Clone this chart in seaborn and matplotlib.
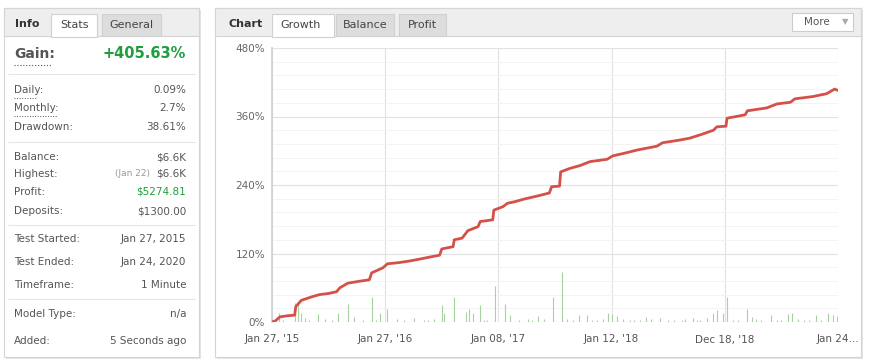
import numpy as np
import pandas as pd
import seaborn as sns
import matplotlib.pyplot as plt
from matplotlib.patches import Rectangle
from matplotlib.ticker import MultipleLocator, FuncFormatter

# ---- data ----
trade = [0, 3, 7, 14, 20, 21, 26, 35, 42, 50, 57, 60, 67, 76, 86, 88, 98, 102, 112, 122,
         130, 140, 148, 150, 160, 161, 168, 173, 182, 184, 195, 196, 204, 208, 215, 222,
         235, 245, 247, 254, 255, 263, 272, 281, 296, 301, 312, 322, 340, 345, 358, 369,
         380, 390, 393, 401, 402, 410, 418, 420, 437, 446, 458, 462, 478, 490, 497, 500]
gain = [0, 2, 9, 11, 12, 27, 38, 44, 48, 50, 53, 60, 68, 71, 74, 86, 95, 102, 104, 107,
        110, 114, 117, 128, 132, 144, 147, 160, 167, 176, 179, 196, 202, 208, 211, 215,
        221, 226, 237, 238, 263, 269, 274, 281, 285, 291, 296, 301, 308, 314, 318, 322,
        329, 336, 342, 343, 357, 360, 363, 370, 375, 382, 385, 391, 395, 400, 408, 405.63]

spike_x = [6, 20, 23, 26, 29, 41, 58, 67, 72, 88, 95, 102, 125, 150, 152, 161, 171, 174,
           178, 184, 197, 206, 210, 226, 235, 248, 256, 261, 271, 278, 292, 297, 300, 305,
           330, 343, 372, 384, 390, 393, 398, 402, 420, 424, 441, 456, 459, 481, 491, 496, 499,
           10, 33, 47, 53, 80, 92, 110, 117, 134, 138, 143, 187, 190, 218, 230, 240, 266,
           283, 287, 310, 316, 320, 325, 335, 350, 355, 362, 365, 375, 378, 407, 412, 428,
           432, 446, 450, 465, 470, 474, 485]
spike_h = [16, 33, 35, 16, 7, 14, 16, 32, 9, 44, 16, 23, 7, 30, 16, 44, 18, 23, 16, 30,
           63, 32, 12, 5, 11, 44, 88, 5, 12, 12, 5, 16, 14, 11, 9, 7, 7, 7, 16, 21, 16, 44,
           22, 9, 12, 14, 16, 12, 16, 12, 11,
           4, 3, 5, 3, 4, 3, 5, 3, 4, 3, 5, 4, 3, 4, 3, 5, 3, 4, 3, 5, 4, 3, 4, 5, 3, 4, 3,
           5, 4, 3, 4, 3, 5, 4, 3, 4, 5, 3, 4, 3]

x_ticks = [0, 100, 200, 300, 400, 500]
x_labels = ["Jan 27, '15", "Jan 27, '16", "Jan 08, '17", "Jan 12, '18", "Dec 18, '18", "Jan 24..."]

info_labels = ["Daily:", "Monthly:", "Drawdown:", "Balance:", "Highest:", "Profit:", "Deposits:",
               "Test Started:", "Test Ended:", "Timeframe:", "Model Type:", "Added:"]
info_values = ["0.09%", "2.7%", "38.61%", "$6.6K", "$6.6K", "$5274.81", "$1300.00",
               "Jan 27, 2015", "Jan 24, 2020", "1 Minute", "n/a", "5 Seconds ago"]
info_rows_y = [90, 108, 127, 157, 174, 192, 211, 239, 262, 285, 314, 341]

curve = pd.DataFrame({"trade": trade, "gain": gain})

sns.set_theme(style="white")
plt.rcParams['font.family'] = ['DejaVu Sans']

fig = plt.figure(figsize=(8.71, 3.64), dpi=100)
fig.patch.set_facecolor("white")

# background layer in pixel coords for the two panels
bg = fig.add_axes([0, 0, 1, 1])
bg.set_xlim(0, 871)
bg.set_ylim(364, 0)
bg.axis("off")


def box(x0, y0, x1, y1, fc, ec, lw=0.8, z=1):
    bg.add_patch(Rectangle((x0, y0), x1 - x0, y1 - y0, facecolor=fc, edgecolor=ec, lw=lw, zorder=z))


# panels + shadows
for x0, x1 in [(4, 199), (215, 861)]:
    box(x0 + 2, 10, x1 + 2, 359, "#e4e4e4", "none", z=0)
    box(x0, 8, x1, 357, "white", "#d4d4d4", z=1)
    box(x0, 8, x1, 36, "#eeeeee", "#d4d4d4", z=2)

# left tabs
box(51, 14, 97, 36.5, "white", "#d0d0d0", z=3)
box(102, 14, 161, 36, "#dddddd", "#d0d0d0", z=3)
bg.text(15, 24, "Info", fontsize=8, fontweight="bold", color="#333333", va="center", zorder=4)
bg.text(74, 25, "Stats", fontsize=8, color="#444444", ha="center", va="center", zorder=4)
bg.text(131, 25, "General", fontsize=8, color="#444444", ha="center", va="center", zorder=4)

# right tabs
box(272, 14, 334, 36.5, "white", "#d0d0d0", z=3)
box(336, 14, 394, 36, "#dddddd", "#d0d0d0", z=3)
box(399, 14, 446, 36, "#dddddd", "#d0d0d0", z=3)
bg.text(228, 24, "Chart", fontsize=8, fontweight="bold", color="#333333", va="center", zorder=4)
bg.text(301, 25, "Growth", fontsize=8, color="#444444", ha="center", va="center", zorder=4)
bg.text(365, 25, "Balance", fontsize=8, color="#444444", ha="center", va="center", zorder=4)
bg.text(422, 25, "Profit", fontsize=8, color="#444444", ha="center", va="center", zorder=4)
box(792, 13, 853, 31, "white", "#cccccc", z=3)
bg.text(817, 22, "More", fontsize=7.5, color="#555555", ha="center", va="center", zorder=4)
bg.text(845, 22, "▼", fontsize=6, color="#aaaaaa", ha="center", va="center", zorder=4)

# gain line
bg.text(14, 54, "Gain:", fontsize=10, fontweight="bold", color="#555555", va="center", zorder=4)
bg.text(186, 54, "+405.63%", fontsize=10.5, fontweight="bold", color="#1e9e3c", ha="right", va="center", zorder=4)
bg.plot([14, 52], [64.5, 64.5], ls=":", color="#555555", lw=0.8, zorder=4)

for y in [74, 142, 225, 299]:
    bg.plot([8, 195], [y, y], color="#e6e6e6", lw=0.8, zorder=4)

for lab, val, y in zip(info_labels, info_values, info_rows_y):
    bg.text(14, y, lab, fontsize=7.5, color="#555555", va="center", zorder=4)
    col = "#1e9e3c" if lab == "Profit:" else "#555555"
    bg.text(186, y, val, fontsize=7.5, color=col, ha="right", va="center", zorder=4)
bg.text(150, 174, "(Jan 22)", fontsize=6.5, color="#999999", ha="right", va="center", zorder=4)
bg.plot([14, 37], [97.5, 97.5], ls=":", color="#555555", lw=0.7, zorder=4)
bg.plot([14, 57], [115.5, 115.5], ls=":", color="#555555", lw=0.7, zorder=4)

# chart
ax = fig.add_axes([272 / 871, 1 - 322 / 364, 566 / 871, 274 / 364])
ax.set_zorder(5)
ax.set_facecolor("white")
ax.vlines(spike_x, 0, spike_h, color="#a6d3a0", lw=0.8, zorder=2)
sns.lineplot(data=curve, x="trade", y="gain", color="#d6504a",
             lw=2.0, sort=False, estimator=None, ax=ax, zorder=3)
ax.set_xlim(0, 500)
ax.set_ylim(0, 480)
ax.yaxis.set_major_locator(MultipleLocator(120))
ax.yaxis.set_minor_locator(MultipleLocator(24))
ax.yaxis.set_major_formatter(FuncFormatter(lambda v, p: f"{int(v)}%"))
ax.set_xticks(x_ticks)
ax.set_xticklabels(x_labels)
ax.grid(which="major", color="#e2e2e2", lw=0.8)
ax.grid(which="minor", axis="y", color="#f3f3f3", lw=0.7)
ax.set_axisbelow(True)
for s in ["top", "right", "bottom"]:
    ax.spines[s].set_visible(False)
ax.spines["left"].set_color("#d0d0d0")
ax.tick_params(axis="y", length=0, pad=5, labelsize=7.5, labelcolor="#666666")
ax.tick_params(axis="x", length=0, pad=9, labelsize=7.5, labelcolor="#555555")
ax.set_xlabel("")
ax.set_ylabel("")

fig.savefig("out.png", dpi=100)
